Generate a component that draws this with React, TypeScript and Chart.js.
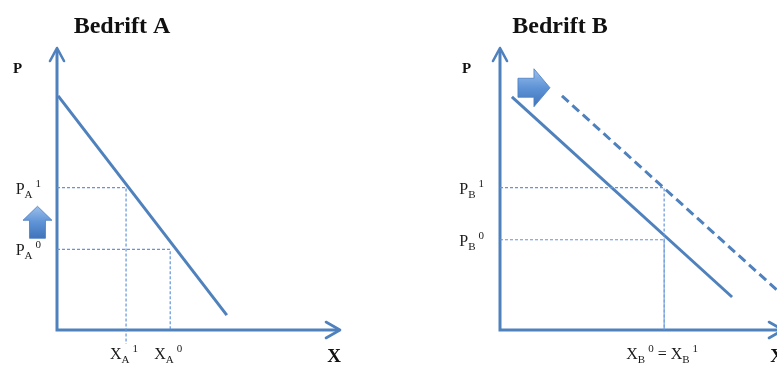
import React, { useEffect, useRef } from 'react';
import { Chart, registerables } from 'chart.js';
Chart.register(...registerables);

// ---------- Panel A (Bedrift A) ----------
const titleA = 'Bedrift A';
const axisTipA = [10, 10]; // x, y arrow tips (units)
const demandAX = [0.04, 6.0];
const demandAY = [8.3, 0.53];
const priceLevelsA = [2.86, 5.05]; // P_A^0, P_A^1
const quantityLevelsA = [4.0, 2.44]; // X_A^0, X_A^1
const quantityFloorA = [0, -0.5]; // how far each vertical guide drops
const priceLabelsA = [['P', 'A', '0'], ['P', 'A', '1']];
const quantityLabelsA = [['X', 'A', '0'], ['X', 'A', '1']];
const shiftArrowA = [-0.69, 3.82]; // centre of the up arrow (units)

// ---------- Panel B (Bedrift B) ----------
const titleB = 'Bedrift B';
const axisTipB = [10, 10];
const demandB0X = [0.42, 8.2];
const demandB0Y = [8.27, 1.17];
const demandB1X = [2.19, 10.8];
const demandB1Y = [8.3, 0.5];
const priceLevelsB = [3.2, 5.05]; // P_B^0, P_B^1
const quantityLevelB = 5.8; // X_B^0 = X_B^1
const priceLabelsB = [['P', 'B', '0'], ['P', 'B', '1']];
const quantityLabelB = ['X', 'B', '0', ' = ', 'X', 'B', '1'];
const shiftArrowB = [1.2, 8.59];

const BLUE = '#4f81bd';
const GUIDE = '#6495d8';
const SERIF = '"Liberation Serif", "Times New Roman", serif';

type Seg = { t: string; kind: 'base' | 'sub' | 'sup' };

function segsFrom(parts: string[]): Seg[] {
  const out: Seg[] = [];
  out.push({ t: parts[0], kind: 'base' }, { t: parts[1], kind: 'sub' }, { t: parts[2], kind: 'sup' });
  if (parts.length > 3) {
    out.push({ t: parts[3], kind: 'base' });
    out.push({ t: parts[4], kind: 'base' }, { t: parts[5], kind: 'sub' }, { t: parts[6], kind: 'sup' });
  }
  return out;
}

function fontFor(kind: string) {
  return kind === 'base' ? `16px ${SERIF}` : `11px ${SERIF}`;
}

function measureRich(ctx: CanvasRenderingContext2D, segs: Seg[]) {
  let w = 0;
  segs.forEach((s) => {
    ctx.font = fontFor(s.kind);
    w += ctx.measureText(s.t).width + (s.kind === 'sup' ? 3 : 0);
  });
  return w;
}

function drawRich(ctx: CanvasRenderingContext2D, segs: Seg[], x: number, baseline: number, align: 'left' | 'center' | 'right') {
  const w = measureRich(ctx, segs);
  let cx = align === 'left' ? x : align === 'center' ? x - w / 2 : x - w;
  ctx.save();
  ctx.fillStyle = '#1a1a1a';
  ctx.textAlign = 'left';
  ctx.textBaseline = 'alphabetic';
  segs.forEach((s) => {
    ctx.font = fontFor(s.kind);
    let y = baseline;
    if (s.kind === 'sub') y = baseline + 4;
    if (s.kind === 'sup') {
      y = baseline - 7;
      cx += 3;
    }
    ctx.fillText(s.t, cx, y);
    cx += ctx.measureText(s.t).width;
  });
  ctx.restore();
}

function blockArrow(ctx: CanvasRenderingContext2D, cx: number, cy: number, dir: 'up' | 'right', len: number, headW: number, shaftW: number, headL: number) {
  ctx.save();
  ctx.translate(cx, cy);
  if (dir === 'right') ctx.rotate(Math.PI / 2);
  const top = -len / 2;
  const bot = len / 2;
  ctx.beginPath();
  ctx.moveTo(0, top);
  ctx.lineTo(headW / 2, top + headL);
  ctx.lineTo(shaftW / 2, top + headL);
  ctx.lineTo(shaftW / 2, bot);
  ctx.lineTo(-shaftW / 2, bot);
  ctx.lineTo(-shaftW / 2, top + headL);
  ctx.lineTo(-headW / 2, top + headL);
  ctx.closePath();
  const g = dir === 'up'
    ? ctx.createLinearGradient(0, top, 0, bot)
    : ctx.createLinearGradient(-headW / 2, 0, headW / 2, 0);
  g.addColorStop(0, '#9cc0ec');
  g.addColorStop(0.5, '#5f93d6');
  g.addColorStop(1, '#3f74bb');
  ctx.fillStyle = g;
  ctx.fill();
  ctx.strokeStyle = '#4a7ec2';
  ctx.lineWidth = 0.8;
  ctx.stroke();
  ctx.restore();
}

function makeDecorPlugin(cfg: {
  title: string;
  titleX: number;
  axisTip: number[];
  pLabelX: number;
  priceLevels: number[];
  priceLabels: string[][];
  qLabels: { x: number; parts: string[] }[];
  arrow: { at: number[]; dir: 'up' | 'right'; len: number; headW: number; shaftW: number; headL: number };
}) {
  return {
    id: 'econDecor',
    beforeDatasetsDraw(chart: any) {
      const { ctx } = chart;
      const xs = chart.scales.x;
      const ys = chart.scales.y;
      const x0 = xs.getPixelForValue(0);
      const y0 = ys.getPixelForValue(0);
      const xt = xs.getPixelForValue(cfg.axisTip[0]);
      const yt = ys.getPixelForValue(cfg.axisTip[1]);
      ctx.save();
      ctx.strokeStyle = BLUE;
      ctx.lineWidth = 3;
      ctx.lineJoin = 'miter';
      ctx.beginPath();
      ctx.moveTo(x0, yt + 1);
      ctx.lineTo(x0, y0);
      ctx.lineTo(xt - 1, y0);
      ctx.stroke();
      ctx.lineWidth = 2.6;
      ctx.lineJoin = 'round';
      ctx.lineCap = 'round';
      ctx.beginPath();
      ctx.moveTo(x0 - 7, yt + 13);
      ctx.lineTo(x0, yt);
      ctx.lineTo(x0 + 7, yt + 13);
      ctx.stroke();
      ctx.beginPath();
      ctx.moveTo(xt - 14, y0 - 8);
      ctx.lineTo(xt, y0);
      ctx.lineTo(xt - 14, y0 + 8);
      ctx.stroke();
      ctx.restore();
    },
    afterDraw(chart: any) {
      const { ctx } = chart;
      const xs = chart.scales.x;
      const ys = chart.scales.y;
      const x0 = xs.getPixelForValue(0);
      const y0 = ys.getPixelForValue(0);
      const xt = xs.getPixelForValue(cfg.axisTip[0]);
      ctx.save();
      ctx.fillStyle = '#111';
      ctx.textBaseline = 'alphabetic';
      ctx.textAlign = 'center';
      ctx.font = `bold 24px ${SERIF}`;
      ctx.fillText(cfg.title, cfg.titleX, 33);
      ctx.font = `bold 15px ${SERIF}`;
      ctx.textAlign = 'left';
      ctx.fillText('P', cfg.pLabelX, 73);
      ctx.font = `bold 19px ${SERIF}`;
      ctx.textAlign = 'center';
      ctx.fillText('X', xt - 6, 362);
      ctx.restore();

      cfg.priceLevels.forEach((p, i) => {
        drawRich(ctx, segsFrom(cfg.priceLabels[i]), x0 - 16, ys.getPixelForValue(p) + 6, 'right');
      });
      cfg.qLabels.forEach((q) => {
        drawRich(ctx, segsFrom(q.parts), xs.getPixelForValue(q.x) - 2, y0 + 29, 'center');
      });
      const a = cfg.arrow;
      blockArrow(ctx, xs.getPixelForValue(a.at[0]), ys.getPixelForValue(a.at[1]), a.dir, a.len, a.headW, a.shaftW, a.headL);
    },
  };
}

function line(xsArr: number[], ysArr: number[], extra: any) {
  return {
    data: xsArr.map((x, i) => ({ x, y: ysArr[i] })),
    showLine: true,
    pointRadius: 0,
    fill: false,
    tension: 0,
    clip: false,
    borderColor: BLUE,
    borderWidth: 3,
    ...extra,
  };
}

function guide(p: number, q: number, floor: number) {
  return line([0, q, q], [p, p, floor], { borderColor: GUIDE, borderWidth: 1.2, borderDash: [3, 2] });
}

function baseOptions(padding: any) {
  return {
    animation: false,
    responsive: false,
    maintainAspectRatio: false,
    events: [],
    layout: { padding },
    scales: {
      x: { type: 'linear', min: 0, max: 10, display: false },
      y: { type: 'linear', min: 0, max: 10, display: false },
    },
    plugins: { legend: { display: false }, tooltip: { enabled: false }, title: { display: false } },
  };
}

export default function App() {
  const refA = useRef<HTMLCanvasElement>(null);
  const refB = useRef<HTMLCanvasElement>(null);

  useEffect(() => {
    const chartA = new Chart(refA.current as HTMLCanvasElement, {
      type: 'scatter',
      data: {
        datasets: [
          ...priceLevelsA.map((p, i) => guide(p, quantityLevelsA[i], quantityFloorA[i])),
          line(demandAX, demandAY, {}),
        ],
      } as any,
      options: baseOptions({ left: 57, right: 50, top: 48, bottom: 42 }) as any,
      plugins: [
        makeDecorPlugin({
          title: titleA,
          titleX: 122,
          axisTip: axisTipA,
          pLabelX: 13,
          priceLevels: priceLevelsA,
          priceLabels: priceLabelsA,
          qLabels: quantityLevelsA.map((q, i) => ({ x: q, parts: quantityLabelsA[i] })),
          arrow: { at: shiftArrowA, dir: 'up', len: 32, headW: 29, shaftW: 16, headL: 14 },
        }) as any,
      ],
    });

    const chartB = new Chart(refB.current as HTMLCanvasElement, {
      type: 'scatter',
      data: {
        datasets: [
          ...priceLevelsB.map((p) => guide(p, quantityLevelB, 0)),
          line(demandB0X, demandB0Y, {}),
          line(demandB1X, demandB1Y, { borderDash: [9, 5] }),
        ],
      } as any,
      options: baseOptions({ left: 110, right: 7, top: 48, bottom: 42 }) as any,
      plugins: [
        makeDecorPlugin({
          title: titleB,
          titleX: 170,
          axisTip: axisTipB,
          pLabelX: 72,
          priceLevels: priceLevelsB,
          priceLabels: priceLabelsB,
          qLabels: [{ x: quantityLevelB, parts: quantityLabelB }],
          arrow: { at: shiftArrowB, dir: 'right', len: 32, headW: 38, shaftW: 19, headL: 16 },
        }) as any,
      ],
    });

    return () => {
      chartA.destroy();
      chartB.destroy();
    };
  }, []);

  return (
    <div style={{ position: 'fixed', left: 0, top: 0, width: 777, height: 372, overflow: 'hidden', background: '#fff' }}>
      <canvas ref={refA} width={390} height={372} style={{ position: 'absolute', left: 0, top: 0, width: 390, height: 372 }} />
      <canvas ref={refB} width={400} height={372} style={{ position: 'absolute', left: 390, top: 0, width: 400, height: 372 }} />
    </div>
  );
}
